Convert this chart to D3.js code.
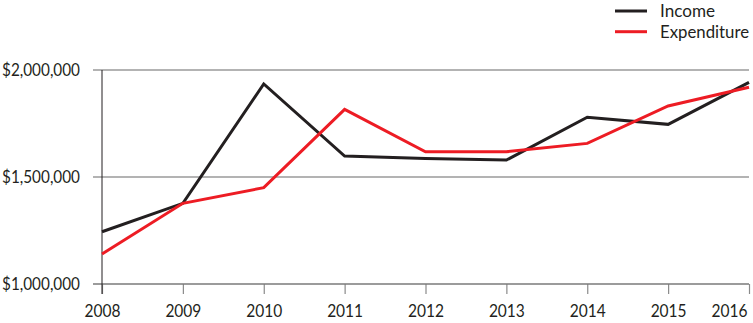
<!DOCTYPE html>
<html><head><meta charset="utf-8">
<script src="https://cdn.jsdelivr.net/npm/d3@7"></script>
<style>html,body{margin:0;padding:0;background:#fff;}svg{display:block;font-family:Lato,"Open Sans",sans-serif;}</style>
</head><body>
<svg id="c" width="753" height="323"></svg>
<script>
const years = [2008, 2009, 2010, 2011, 2012, 2013, 2014, 2015, 2016];
const income = [1244000, 1377000, 1935000, 1598000, 1586000, 1579000, 1779000, 1746000, 1942000];
const expenditure = [1140000, 1377000, 1450000, 1816000, 1618000, 1618000, 1657000, 1832000, 1919000];
const yTicks = [1000000, 1500000, 2000000];
const seriesNames = ["Income", "Expenditure"];
const colors = ["#231f20", "#ed1c24"];

const svg = d3.select("#c");
const x = d3.scaleLinear().domain([2008, 2016]).range([102, 749]);
const y = d3.scaleLinear().domain([1000000, 2000000]).range([284, 70]);
const fmt = v => "$" + d3.format(",")(v);

function fit(sel, w) {
  sel.each(function () {
    if (this.getComputedTextLength() > 0)
      d3.select(this).attr("textLength", w).attr("lengthAdjust", "spacingAndGlyphs");
  });
}

// gridlines
svg.append("g").selectAll("line").data(yTicks.slice(1)).join("line")
  .attr("x1", 93).attr("x2", 749).attr("y1", d => y(d)).attr("y2", d => y(d))
  .attr("stroke", "#9a9a9a").attr("stroke-width", 1.5);

// x axis
const xa = svg.append("g").attr("transform", `translate(0,${y(1000000)})`)
  .call(d3.axisBottom(x).tickValues(years).tickFormat(d3.format("d")).tickSize(10).tickPadding(10));
xa.select(".domain").remove();
xa.append("line").attr("x1", 93).attr("x2", 749).attr("stroke", "#7a7a7a").attr("stroke-width", 1.5);
xa.selectAll(".tick line").attr("stroke", "#8a8a8a").attr("stroke-width", 1.2);
xa.selectAll(".tick text").attr("fill", "#231f20").attr("font-size", 18).attr("font-family", "Lato");
xa.selectAll(".tick text").filter(d => d === years[years.length - 1])
  .attr("x", 729 - x(years[years.length - 1]));
fit(xa.selectAll(".tick text"), 36);

// y labels
const yl = svg.append("g").selectAll("text").data(yTicks).join("text")
  .attr("x", 80).attr("y", d => y(d)).attr("dy", "0.35em").attr("text-anchor", "end")
  .attr("font-size", 17).attr("fill", "#231f20").text(fmt);
fit(yl, 78);

// y axis line
svg.append("line").attr("x1", 102).attr("x2", 102).attr("y1", y(2000000)).attr("y2", y(1000000) + 10)
  .attr("stroke", "#231f20").attr("stroke-width", 1);

// lines
const line = d3.line().x((d, i) => x(years[i])).y(d => y(d));
[income, expenditure].forEach((s, k) => {
  svg.append("path").datum(s).attr("d", line).attr("fill", "none")
    .attr("stroke", colors[k]).attr("stroke-width", 3).attr("stroke-linejoin", "miter");
});

// legend
const legendWidths = [55, 89];
const lg = svg.append("g");
seriesNames.forEach((n, k) => {
  const ly = 11 + k * 20.7;
  lg.append("line").attr("x1", 615).attr("x2", 647).attr("y1", ly).attr("y2", ly)
    .attr("stroke", colors[k]).attr("stroke-width", 3);
  const t = lg.append("text").attr("x", 660).attr("y", ly).attr("dy", "0.35em")
    .attr("font-size", 17).attr("fill", "#231f20").text(n);
  fit(t, legendWidths[k]);
});
</script>
</body></html>
